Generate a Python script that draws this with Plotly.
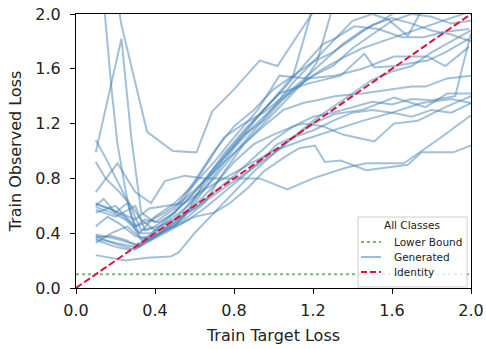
import plotly.graph_objects as go

# ---- data ----
lower_bound = 0.1
identity_x = [0.0, 2.0]
identity_y = [0.0, 2.0]
tick_vals = [0.0, 0.4, 0.8, 1.2, 1.6, 2.0]
legend_title = "All Classes"
legend_labels = ["Lower Bound", "Generated", "Identity"]

gen_x = [
    [0.10, 0.23, 0.28, 0.33, 0.40, 0.50, 0.60, 0.70, 0.80, 0.90, 1.00, 1.10, 1.20, 1.30, 1.40, 1.50, 1.60, 1.70, 1.80, 1.90, 2.00],
    [0.14, 0.18, 0.21, 0.25, 0.28, 0.32, 0.38, 0.45, 0.55, 0.65, 0.75, 0.85, 0.95, 1.05, 1.15, 1.25, 1.31, 1.41, 1.53, 1.65, 1.76, 1.87, 1.99],
    [0.21, 0.23, 0.36, 0.49, 0.61, 0.69, 0.80, 0.93, 1.02, 1.10, 1.19, 1.23],
    [0.10, 0.15, 0.22, 0.28, 0.33, 0.40, 0.47, 0.55, 0.65, 0.75, 0.85, 0.95, 1.03, 1.17, 1.34, 1.46, 1.51, 1.61, 1.78, 1.87, 1.99],
    [0.10, 0.21, 0.30, 0.38, 0.45, 0.55, 0.65, 0.80, 0.93, 1.07, 1.20, 1.37, 1.47, 1.66, 1.83, 2.00],
    [0.10, 0.20, 0.30, 0.40, 0.50, 0.60, 0.70, 0.78, 0.87, 0.95, 1.05, 1.13, 1.21, 1.26, 1.34, 1.47, 1.68, 1.75, 1.91, 2.00],
    [0.10, 0.25, 0.36, 0.48, 0.52, 0.60, 0.70, 0.80, 0.90, 1.00, 1.10, 1.20, 1.31, 1.45, 1.61, 1.70, 1.77, 1.88, 2.00],
    [0.10, 0.18, 0.25, 0.32, 0.40, 0.50, 0.60, 0.70, 0.80, 0.92, 1.03, 1.17, 1.31, 1.45, 1.61, 1.70, 1.78, 1.87, 1.99],
    [0.10, 0.17, 0.24, 0.30, 0.36, 0.45, 0.55, 0.65, 0.75, 0.85, 0.95, 1.05, 1.15, 1.25, 1.31, 1.45, 1.60, 1.70, 1.77, 1.88, 2.00],
    [0.10, 0.20, 0.28, 0.33, 0.40, 0.50, 0.60, 0.70, 0.80, 0.90, 1.00, 1.10, 1.15, 1.25, 1.35, 1.51, 1.61, 1.73, 1.87, 2.00],
    [0.10, 0.18, 0.25, 0.32, 0.40, 0.50, 0.60, 0.70, 0.80, 0.90, 1.00, 1.10, 1.20],
    [0.10, 0.20, 0.30, 0.38, 0.45, 0.55, 0.65, 0.75, 0.85, 0.95, 1.05, 1.15, 1.22, 1.30],
    [0.10, 0.15, 0.22, 0.28, 0.33, 0.40, 0.50, 0.60, 0.70, 0.80, 0.90, 1.00, 1.10, 1.20, 1.30, 1.40, 1.50, 1.60, 1.70, 1.80, 1.90, 2.00],
    [0.10, 0.20, 0.30, 0.35, 0.42, 0.50, 0.60, 0.70, 0.80, 0.90, 1.00, 1.10, 1.20, 1.30, 1.40, 1.50, 1.60, 1.70, 1.80, 1.92, 2.00],
    [0.10, 0.20, 0.27, 0.32, 0.38, 0.45, 0.55, 0.65, 0.75, 0.85, 0.95, 1.02, 1.10, 1.20, 1.30, 1.40, 1.50, 1.60, 1.70, 1.80, 1.90, 2.00],
    [0.10, 0.14, 0.20, 0.26, 0.30, 0.35, 0.42, 0.50, 0.58, 0.66, 0.75, 0.85, 0.95, 1.05, 1.15, 1.25, 1.35, 1.45, 1.55, 1.65],
    [0.10, 0.20, 0.30, 0.40, 0.50, 0.60, 0.70, 0.80, 0.90, 1.00, 1.10, 1.20, 1.30, 1.40, 1.50, 1.60, 1.70, 1.80, 1.90, 2.00],
    [0.10, 0.22, 0.30, 0.37, 0.45, 0.55, 0.65, 0.75, 0.87, 1.00, 1.15, 1.30, 1.45, 1.60, 1.75, 1.90, 2.00],
    [0.10, 0.18, 0.26, 0.33, 0.40, 0.50, 0.60, 0.70, 0.80, 0.90, 1.00, 1.10, 1.20, 1.30, 1.40, 1.50, 1.58, 1.68, 1.74, 1.80],
    [0.10, 0.16, 0.22, 0.30, 0.38, 0.46, 0.55, 0.65, 0.75, 0.85, 0.95, 1.05, 1.15, 1.25, 1.35, 1.45, 1.55, 1.65, 1.75, 1.85, 1.95, 2.00],
]
gen_y = [
    [0.99, 1.82, 1.10, 0.55, 0.48, 0.58, 0.78, 1.00, 1.18, 1.30, 1.45, 1.55, 1.65, 1.72, 1.82, 1.92, 1.97, 1.93, 1.88, 1.85, 1.80],
    [2.10, 1.45, 1.05, 0.72, 0.52, 0.40, 0.40, 0.47, 0.58, 0.75, 0.95, 1.12, 1.30, 1.45, 1.62, 1.78, 1.82, 1.91, 1.89, 1.83, 1.83, 1.87, 1.89],
    [2.10, 1.92, 1.14, 1.00, 0.99, 1.29, 1.45, 1.66, 1.62, 1.80, 2.00, 2.08],
    [1.08, 0.95, 0.75, 0.58, 0.42, 0.45, 0.52, 0.62, 0.78, 0.98, 1.15, 1.30, 1.42, 1.49, 1.55, 1.71, 1.61, 1.62, 1.66, 1.72, 1.82],
    [0.70, 0.91, 0.70, 0.62, 0.78, 0.82, 0.80, 0.80, 0.80, 0.72, 0.80, 0.88, 0.91, 0.91, 1.08, 1.26],
    [0.36, 0.33, 0.30, 0.38, 0.45, 0.52, 0.55, 0.62, 0.73, 0.85, 0.95, 1.02, 1.04, 0.92, 0.93, 0.86, 0.90, 0.99, 0.99, 1.04],
    [0.24, 0.20, 0.22, 0.23, 0.26, 0.40, 0.55, 0.70, 0.85, 0.98, 1.10, 1.20, 1.27, 1.30, 1.39, 1.35, 1.32, 1.42, 1.42],
    [0.59, 0.55, 0.50, 0.40, 0.52, 0.62, 0.76, 0.92, 1.10, 1.30, 1.55, 1.53, 1.55, 1.60, 1.69, 1.69, 1.69, 1.62, 1.76],
    [0.61, 0.58, 0.52, 0.45, 0.48, 0.55, 0.65, 0.78, 0.92, 1.05, 1.18, 1.30, 1.35, 1.38, 1.40, 1.42, 1.45, 1.47, 1.47, 1.53, 1.55],
    [0.55, 0.60, 0.48, 0.35, 0.38, 0.48, 0.60, 0.75, 0.92, 1.05, 1.12, 1.18, 1.20, 1.18, 1.12, 1.07, 1.20, 1.22, 1.32, 1.40],
    [0.37, 0.38, 0.35, 0.30, 0.42, 0.55, 0.70, 0.88, 1.05, 1.22, 1.38, 1.55, 2.05],
    [0.39, 0.36, 0.32, 0.35, 0.42, 0.50, 0.62, 0.85, 1.05, 1.20, 1.35, 1.50, 1.65, 2.05],
    [0.92, 0.80, 0.70, 0.60, 0.50, 0.42, 0.45, 0.62, 0.82, 1.02, 1.18, 1.32, 1.45, 1.55, 1.62, 1.75, 1.85, 1.95, 2.00, 1.98, 1.93, 1.95],
    [0.57, 0.52, 0.60, 0.42, 0.45, 0.50, 0.58, 0.70, 0.82, 0.95, 1.08, 1.18, 1.25, 1.28, 1.32, 1.36, 1.34, 1.38, 1.37, 1.40, 1.86],
    [0.35, 0.30, 0.28, 0.30, 0.35, 0.40, 0.48, 0.58, 0.70, 0.82, 0.95, 1.05, 1.10, 1.15, 1.22, 1.28, 1.30, 1.28, 1.25, 1.30, 1.28, 1.35],
    [0.60, 0.65, 0.55, 0.62, 0.45, 0.50, 0.48, 0.55, 0.72, 0.90, 1.10, 1.20, 1.28, 1.40, 1.52, 1.65, 1.78, 1.88, 1.95, 2.05],
    [0.38, 0.32, 0.28, 0.38, 0.48, 0.58, 0.68, 0.78, 0.88, 0.98, 1.10, 1.22, 1.32, 1.42, 1.52, 1.58, 1.62, 1.72, 1.80, 1.88],
    [0.62, 0.55, 0.50, 0.58, 0.60, 0.62, 0.72, 0.80, 0.90, 1.00, 1.08, 1.15, 1.22, 1.28, 1.35, 1.38, 1.35],
    [0.33, 0.40, 0.45, 0.36, 0.40, 0.50, 0.65, 0.80, 0.98, 1.15, 1.32, 1.50, 1.65, 1.80, 1.95, 2.00, 1.96, 1.84, 2.00, 2.05],
    [0.45, 0.52, 0.47, 0.38, 0.36, 0.42, 0.52, 0.78, 0.95, 1.12, 1.22, 1.38, 1.50, 1.60, 1.68, 1.75, 1.80, 1.85, 1.90, 1.95, 2.00, 2.02],
]

FONT = "DejaVu Sans"
BLUE = "rgba(70,130,180,0.5)"
BLUE_LEG = "rgba(70,130,180,0.55)"
GREEN = "rgba(60,170,60,0.75)"
RED = "#DC143C"

fig = go.Figure()

fig.add_trace(go.Scatter(
    x=[0.0, 2.0], y=[lower_bound, lower_bound], mode="lines",
    name=legend_labels[0], showlegend=False,
    line=dict(color=GREEN, width=2, dash="dot"),
))

for xs, ys in zip(gen_x, gen_y):
    fig.add_trace(go.Scatter(
        x=xs, y=ys, mode="lines", name=legend_labels[1], showlegend=False,
        line=dict(color=BLUE, width=2),
    ))

fig.add_trace(go.Scatter(
    x=identity_x, y=identity_y, mode="lines", name=legend_labels[2],
    showlegend=False,
    line=dict(color=RED, width=2, dash="7px,3px"),
))

axis_common = dict(
    range=[0, 2.0], tickvals=tick_vals, tickformat=".1f",
    showgrid=False, zeroline=False, automargin=False,
    showline=True, linecolor="black", linewidth=1.2, mirror=True,
    ticks="outside", ticklen=5, tickcolor="black", tickwidth=1,
    tickfont=dict(family=FONT, size=16, color="#222"),
)

# ---- hand-drawn legend box (matplotlib style) ----
shapes = [
    dict(type="rect", xref="paper", yref="paper", x0=0.714, x1=0.990, y0=0.004, y1=0.259,
         fillcolor="rgba(255,255,255,0.8)", line=dict(color="#cccccc", width=1), layer="above"),
]
sym_styles = [dict(color=GREEN, width=2, dash="dot"),
              dict(color=BLUE_LEG, width=2),
              dict(color=RED, width=2, dash="6px,3px")]
row_y = [0.168, 0.113, 0.058]
for ry, st in zip(row_y, sym_styles):
    shapes.append(dict(type="line", xref="paper", yref="paper", x0=0.7215, x1=0.772,
                       y0=ry, y1=ry, line=st, layer="above"))

annotations = [dict(text=legend_title, xref="paper", yref="paper", x=0.851, y=0.230,
                    xanchor="center", yanchor="middle", showarrow=False,
                    font=dict(family=FONT, size=10.5, color="#222"))]
for ry, lab in zip(row_y, legend_labels):
    annotations.append(dict(text=lab, xref="paper", yref="paper", x=0.80, y=ry,
                            xanchor="left", yanchor="middle", showarrow=False,
                            font=dict(family=FONT, size=10.5, color="#222")))

fig.update_layout(
    width=486, height=349,
    margin=dict(l=76, r=15, t=14, b=61),
    paper_bgcolor="white", plot_bgcolor="white",
    font=dict(family=FONT, color="#222"),
    xaxis=dict(**axis_common, ticklabelstandoff=3,
               title=dict(text="Train Target Loss", font=dict(family=FONT, size=16), standoff=10)),
    yaxis=dict(**axis_common, ticklabelstandoff=6,
               title=dict(text="Train Observed Loss", font=dict(family=FONT, size=16), standoff=9)),
    showlegend=False,
    shapes=shapes,
    annotations=annotations,
)

fig.write_html("out.html")
